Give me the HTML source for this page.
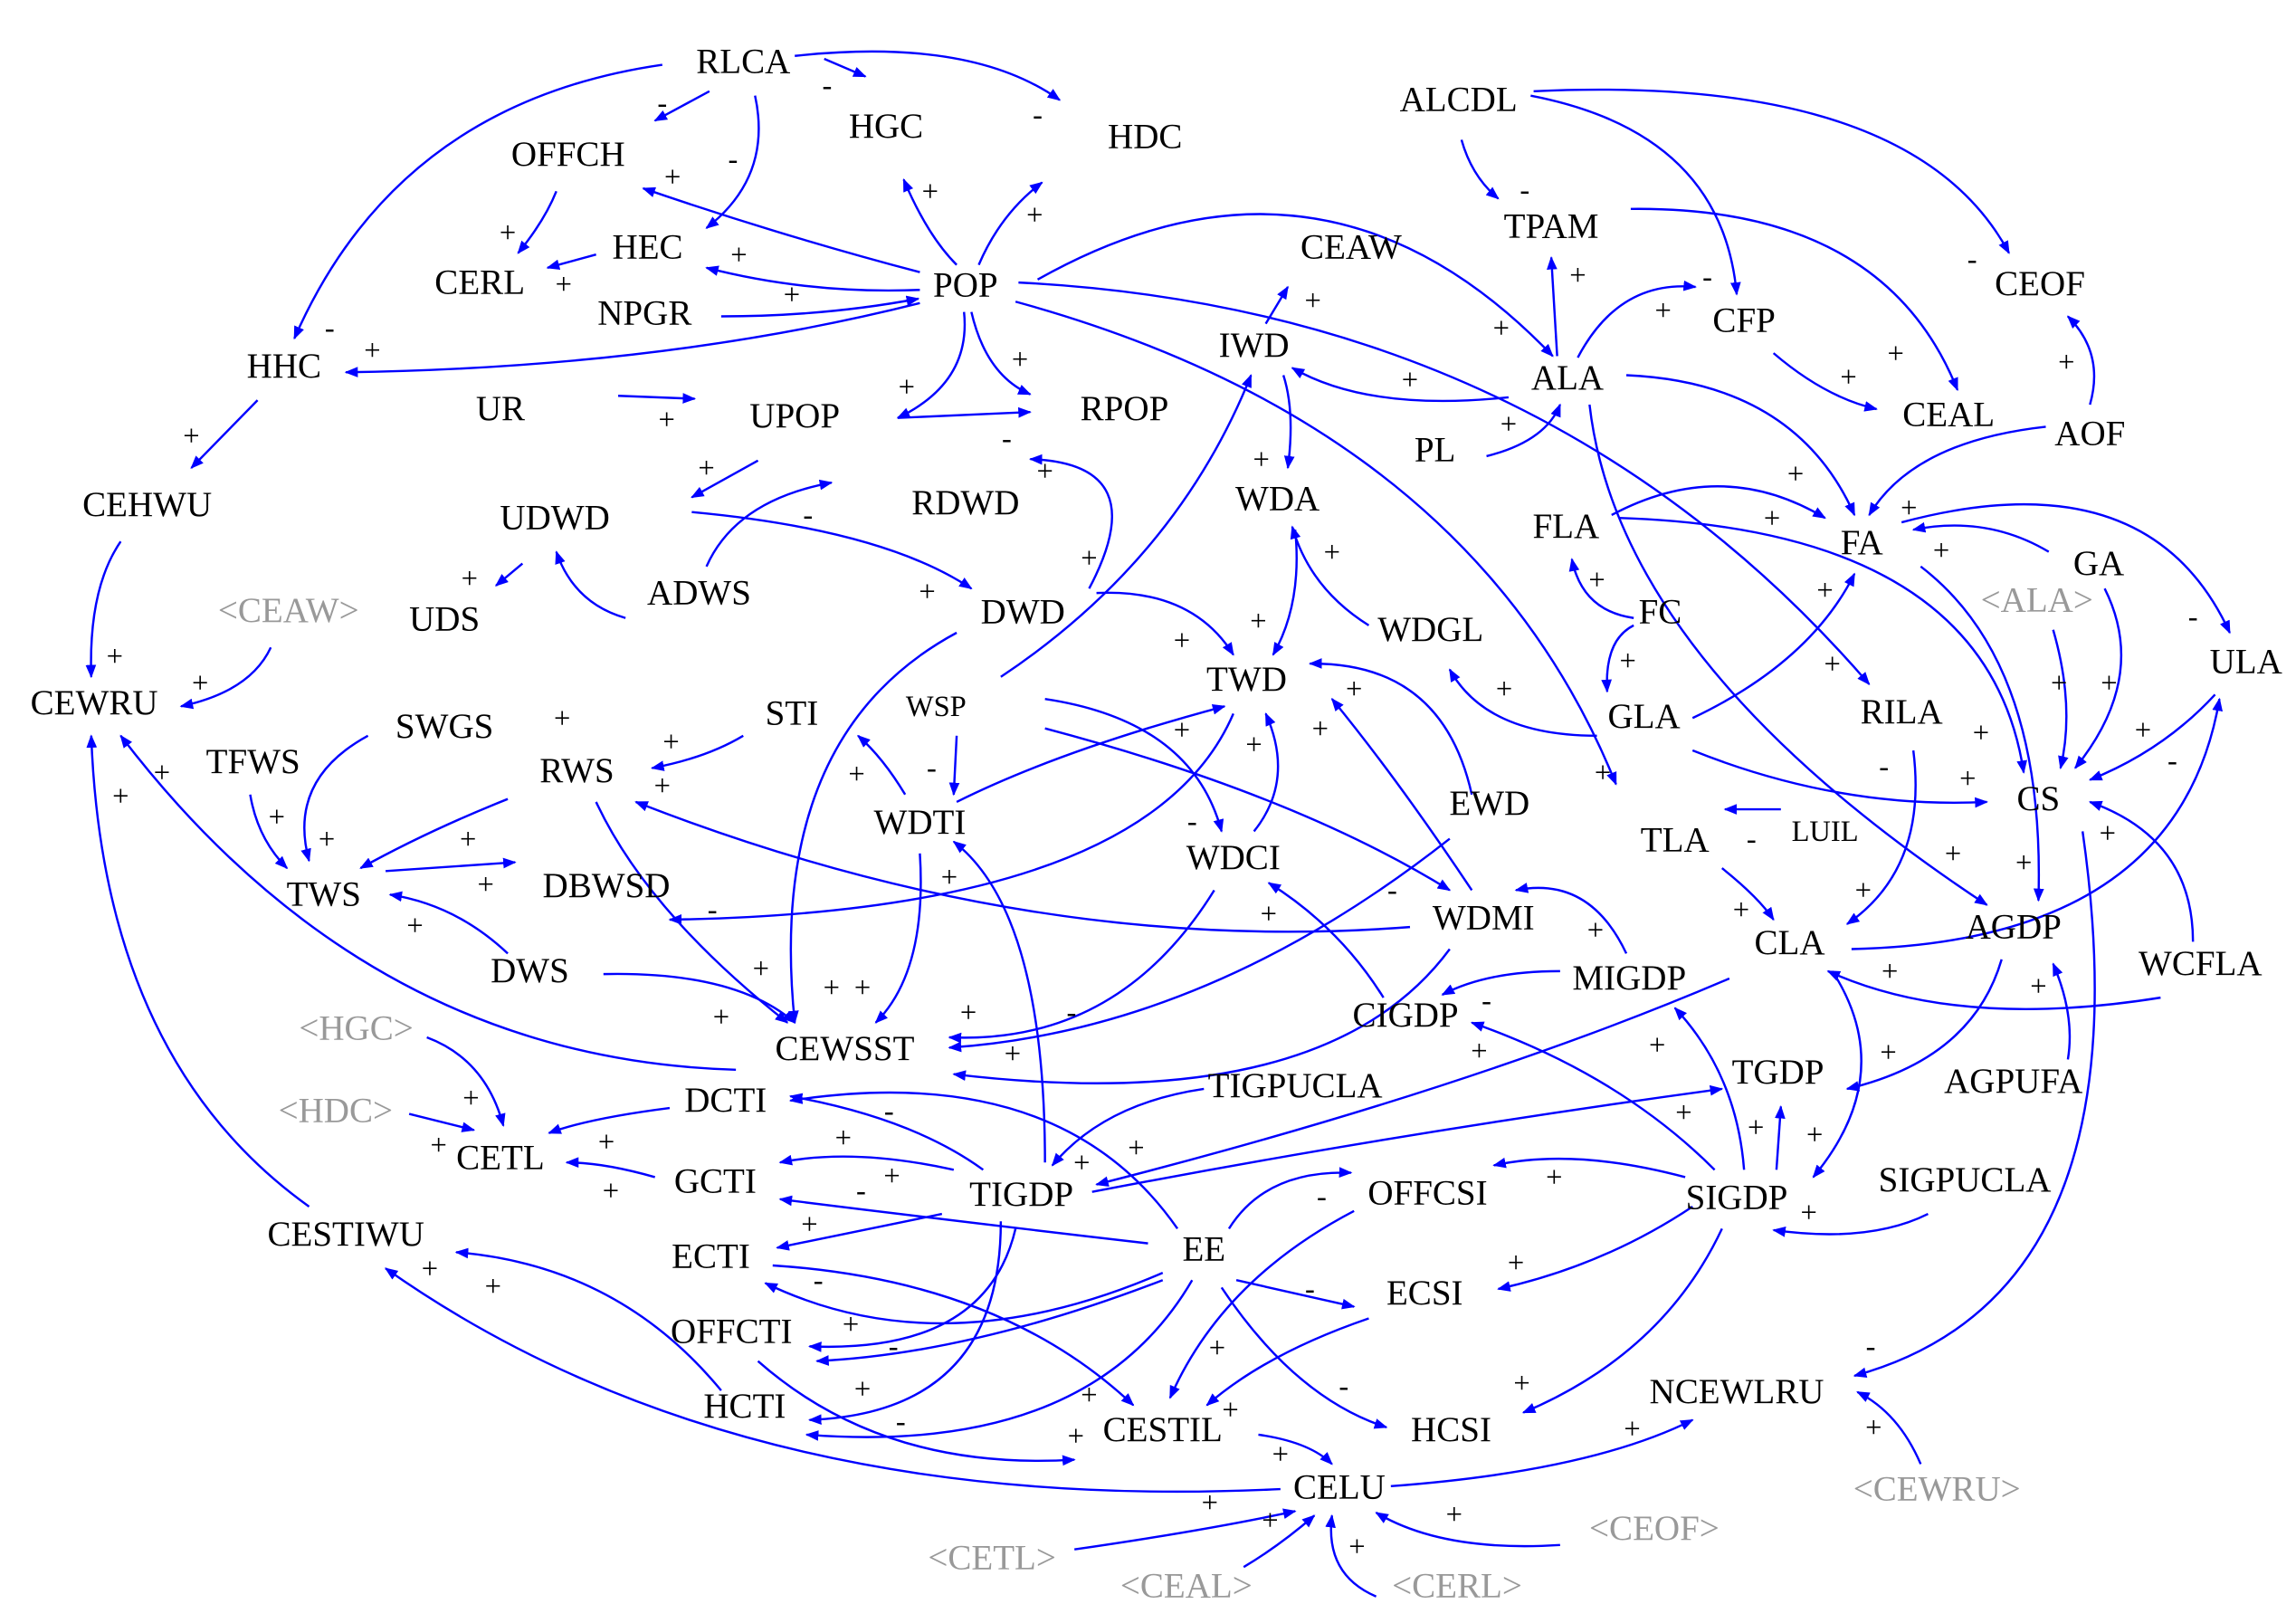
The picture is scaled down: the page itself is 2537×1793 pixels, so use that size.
<!DOCTYPE html>
<html><head><meta charset="utf-8"><style>
html,body{margin:0;padding:0;background:#fff;}
svg{display:block;}
text{font-family:"Liberation Serif",serif;}
.n{font-size:24px;fill:#000;text-anchor:middle;dominant-baseline:middle;}
.g{font-size:24px;fill:#999;text-anchor:middle;dominant-baseline:middle;}
.s{font-size:20px;fill:#000;text-anchor:middle;dominant-baseline:middle;}
path{fill:none;stroke:#0000ff;stroke-width:1.5;marker-end:url(#a);}
</style></head><body>
<svg width="2537" height="1793" viewBox="0 0 1560 1103" preserveAspectRatio="none" xmlns="http://www.w3.org/2000/svg">
<defs><marker id="a" viewBox="0 0 10 10" refX="9" refY="5" markerWidth="9" markerHeight="9" markerUnits="userSpaceOnUse" orient="auto"><path d="M0,1 L10,5 L0,9 z" style="fill:#0000ff;stroke:none;marker-end:none"/></marker></defs>
<rect width="1560" height="1103" fill="#fff"/>
<g>
<path d="M450 44 Q270 70 200 230"/>
<path d="M560 40 L588 52"/>
<path d="M540 38 Q660 25 720 68"/>
<path d="M482 62 L445 82"/>
<path d="M513 65 Q525 120 480 155"/>
<path d="M378 130 Q370 150 352 172"/>
<path d="M405 173 L372 182"/>
<path d="M625 185 Q530 160 437 128"/>
<path d="M625 197 Q550 200 480 182"/>
<path d="M490 215 Q560 215 624 203"/>
<path d="M625 206 Q450 250 235 253"/>
<path d="M650 180 Q630 160 614 122"/>
<path d="M665 180 Q680 145 708 124"/>
<path d="M655 212 Q660 260 610 284"/>
<path d="M660 212 Q670 255 700 268"/>
<path d="M610 284 L700 280"/>
<path d="M420 269 L472 271"/>
<path d="M705 190 Q900 80 1055 242"/>
<path d="M690 205 Q1000 290 1098 533"/>
<path d="M692 192 Q1050 210 1270 465"/>
<path d="M175 272 L130 318"/>
<path d="M82 368 Q60 400 62 460"/>
<path d="M184 440 Q170 470 123 480"/>
<path d="M515 313 L470 338"/>
<path d="M480 385 Q500 340 565 328"/>
<path d="M470 348 Q600 360 660 400"/>
<path d="M355 383 L337 398"/>
<path d="M425 420 Q390 410 378 375"/>
<path d="M740 400 Q785 315 700 312"/>
<path d="M745 403 Q810 400 838 445"/>
<path d="M650 430 Q520 500 540 695"/>
<path d="M860 220 L875 195"/>
<path d="M872 255 Q880 280 875 318"/>
<path d="M1025 270 Q930 280 878 250"/>
<path d="M680 460 Q800 380 850 255"/>
<path d="M880 360 Q885 410 865 445"/>
<path d="M930 425 Q890 400 878 358"/>
<path d="M1000 540 Q980 450 890 451"/>
<path d="M1000 605 Q950 530 905 475"/>
<path d="M650 545 Q720 510 832 480"/>
<path d="M838 485 Q780 620 455 625"/>
<path d="M852 565 Q880 530 860 485"/>
<path d="M710 475 Q810 490 830 565"/>
<path d="M710 495 Q880 540 985 605"/>
<path d="M650 500 L648 540"/>
<path d="M505 500 Q480 515 443 522"/>
<path d="M615 540 Q600 515 583 500"/>
<path d="M250 500 Q195 530 210 585"/>
<path d="M170 540 Q175 570 195 590"/>
<path d="M345 543 Q290 565 245 590"/>
<path d="M262 592 L350 586"/>
<path d="M345 648 Q310 615 265 608"/>
<path d="M405 545 Q440 620 535 695"/>
<path d="M958 630 Q700 650 432 545"/>
<path d="M410 662 Q500 660 540 695"/>
<path d="M625 580 Q630 660 595 695"/>
<path d="M825 605 Q760 710 645 705"/>
<path d="M985 570 Q820 700 645 712"/>
<path d="M985 645 Q900 760 648 730"/>
<path d="M500 727 Q250 720 82 500"/>
<path d="M210 820 Q70 720 62 500"/>
<path d="M290 705 Q330 720 342 765"/>
<path d="M278 757 L322 768"/>
<path d="M455 753 Q400 760 373 770"/>
<path d="M445 800 Q410 790 385 790"/>
<path d="M668 795 Q620 760 537 745"/>
<path d="M648 795 Q580 780 530 790"/>
<path d="M800 835 Q720 720 537 748"/>
<path d="M780 845 Q650 830 530 815"/>
<path d="M640 825 L528 848"/>
<path d="M790 865 Q640 930 520 872"/>
<path d="M690 835 Q670 920 550 915"/>
<path d="M790 870 Q660 920 555 925"/>
<path d="M680 830 Q680 960 550 965"/>
<path d="M810 870 Q740 990 548 975"/>
<path d="M525 860 Q680 870 770 955"/>
<path d="M515 925 Q600 1000 730 992"/>
<path d="M490 945 Q420 860 310 851"/>
<path d="M870 1012 Q500 1030 262 862"/>
<path d="M835 835 Q860 795 918 797"/>
<path d="M840 870 L920 888"/>
<path d="M830 875 Q880 950 942 970"/>
<path d="M920 823 Q830 870 795 950"/>
<path d="M930 896 Q860 920 820 955"/>
<path d="M855 975 Q890 980 905 995"/>
<path d="M945 1010 Q1080 1000 1150 965"/>
<path d="M730 1053 Q820 1040 880 1027"/>
<path d="M845 1065 Q870 1050 893 1030"/>
<path d="M935 1085 Q900 1070 905 1030"/>
<path d="M1060 1050 Q980 1055 935 1028"/>
<path d="M1305 995 Q1290 960 1262 946"/>
<path d="M1415 565 Q1460 880 1260 935"/>
<path d="M1170 835 Q1130 920 1035 960"/>
<path d="M1150 820 Q1090 860 1018 876"/>
<path d="M1145 800 Q1070 780 1015 792"/>
<path d="M1165 795 Q1100 730 1000 695"/>
<path d="M1185 795 Q1180 730 1138 685"/>
<path d="M1207 795 L1210 752"/>
<path d="M1310 825 Q1270 845 1205 836"/>
<path d="M1245 660 Q1290 730 1232 800"/>
<path d="M1175 665 Q1000 740 745 805"/>
<path d="M742 810 Q950 770 1170 740"/>
<path d="M818 740 Q750 750 715 792"/>
<path d="M710 790 Q710 620 648 572"/>
<path d="M940 678 Q910 630 862 600"/>
<path d="M1105 648 Q1080 595 1030 605"/>
<path d="M1060 660 Q1010 660 980 676"/>
<path d="M1170 590 Q1195 610 1205 625"/>
<path d="M1210 550 L1172 550"/>
<path d="M1300 510 Q1310 590 1255 628"/>
<path d="M1080 275 Q1100 450 1350 615"/>
<path d="M1150 510 Q1250 550 1350 545"/>
<path d="M1150 488 Q1230 450 1260 390"/>
<path d="M1085 500 Q1010 500 985 455"/>
<path d="M1110 425 Q1090 435 1092 470"/>
<path d="M1110 420 Q1075 415 1068 380"/>
<path d="M1095 350 Q1170 310 1240 352"/>
<path d="M1100 352 Q1350 360 1375 525"/>
<path d="M1105 255 Q1220 260 1260 350"/>
<path d="M1205 240 Q1240 270 1275 278"/>
<path d="M1072 243 Q1100 190 1152 195"/>
<path d="M1058 242 L1054 175"/>
<path d="M993 95 Q1000 120 1018 135"/>
<path d="M1040 65 Q1170 90 1180 200"/>
<path d="M1042 62 Q1300 50 1365 172"/>
<path d="M1108 142 Q1280 140 1330 265"/>
<path d="M1420 275 Q1430 240 1405 215"/>
<path d="M1390 290 Q1300 300 1270 350"/>
<path d="M1010 310 Q1050 300 1060 275"/>
<path d="M1392 375 Q1350 350 1300 360"/>
<path d="M1292 355 Q1460 310 1515 430"/>
<path d="M1430 400 Q1460 460 1410 522"/>
<path d="M1395 428 Q1410 480 1400 522"/>
<path d="M1305 385 Q1390 450 1385 612"/>
<path d="M1505 472 Q1470 510 1420 530"/>
<path d="M1258 645 Q1480 640 1508 475"/>
<path d="M1490 640 Q1490 570 1420 545"/>
<path d="M1468 678 Q1330 700 1242 660"/>
<path d="M1360 652 Q1340 720 1255 740"/>
<path d="M1405 720 Q1410 690 1395 655"/>
</g>
<g>
<rect x="0" y="0" width="0" height="0"/>
</g>
<g>
<text class="n" x="505" y="44">RLCA</text>
<text class="n" x="602" y="88">HGC</text>
<text class="n" x="778" y="95">HDC</text>
<text class="n" x="386" y="107">OFFCH</text>
<text class="n" x="440" y="170">HEC</text>
<text class="n" x="326" y="194">CERL</text>
<text class="n" x="438" y="215">NPGR</text>
<text class="n" x="656" y="196">POP</text>
<text class="n" x="193" y="251">HHC</text>
<text class="n" x="340" y="280">UR</text>
<text class="n" x="540" y="285">UPOP</text>
<text class="n" x="764" y="280">RPOP</text>
<text class="n" x="100" y="345">CEHWU</text>
<text class="n" x="377" y="354">UDWD</text>
<text class="n" x="656" y="344">RDWD</text>
<text class="n" x="475" y="405">ADWS</text>
<text class="n" x="302" y="423">UDS</text>
<text class="g" x="196" y="417">&lt;CEAW&gt;</text>
<text class="n" x="695" y="418">DWD</text>
<text class="n" x="64" y="480">CEWRU</text>
<text class="n" x="302" y="496">SWGS</text>
<text class="n" x="538" y="487">STI</text>
<text class="n" x="636" y="482" style="font-size:20px">WSP</text>
<text class="n" x="172" y="520">TFWS</text>
<text class="n" x="392" y="526">RWS</text>
<text class="n" x="847" y="464">TWD</text>
<text class="n" x="625" y="561">WDTI</text>
<text class="n" x="220" y="610">TWS</text>
<text class="n" x="412" y="604">DBWSD</text>
<text class="n" x="838" y="585">WDCI</text>
<text class="n" x="1012" y="548">EWD</text>
<text class="n" x="1008" y="626">WDMI</text>
<text class="n" x="360" y="662">DWS</text>
<text class="n" x="574" y="715">CEWSST</text>
<text class="g" x="242" y="701">&lt;HGC&gt;</text>
<text class="g" x="228" y="757">&lt;HDC&gt;</text>
<text class="n" x="340" y="789">CETL</text>
<text class="n" x="493" y="750">DCTI</text>
<text class="n" x="486" y="805">GCTI</text>
<text class="n" x="694" y="814">TIGDP</text>
<text class="n" x="880" y="740">TIGPUCLA</text>
<text class="n" x="955" y="692">CIGDP</text>
<text class="n" x="1107" y="667">MIGDP</text>
<text class="n" x="235" y="841">CESTIWU</text>
<text class="n" x="483" y="856">ECTI</text>
<text class="n" x="818" y="851">EE</text>
<text class="n" x="970" y="813">OFFCSI</text>
<text class="n" x="968" y="881">ECSI</text>
<text class="n" x="497" y="907">OFFCTI</text>
<text class="n" x="506" y="958">HCTI</text>
<text class="n" x="790" y="974">CESTIL</text>
<text class="n" x="986" y="974">HCSI</text>
<text class="n" x="910" y="1013">CELU</text>
<text class="g" x="674" y="1061">&lt;CETL&gt;</text>
<text class="g" x="806" y="1080">&lt;CEAL&gt;</text>
<text class="g" x="990" y="1080">&lt;CERL&gt;</text>
<text class="g" x="1124" y="1041">&lt;CEOF&gt;</text>
<text class="g" x="1316" y="1014">&lt;CEWRU&gt;</text>
<text class="n" x="1180" y="948">NCEWLRU</text>
<text class="n" x="1180" y="816">SIGDP</text>
<text class="n" x="1335" y="804">SIGPUCLA</text>
<text class="n" x="1208" y="731">TGDP</text>
<text class="n" x="1368" y="737">AGPUFA</text>
<text class="n" x="1216" y="643">CLA</text>
<text class="n" x="1368" y="632">AGDP</text>
<text class="n" x="1495" y="657">WCFLA</text>
<text class="n" x="1138" y="573">TLA</text>
<text class="n" x="1240" y="567" style="font-size:20px">LUIL</text>
<text class="n" x="1292" y="486">RILA</text>
<text class="n" x="1385" y="545">CS</text>
<text class="n" x="1117" y="489">GLA</text>
<text class="n" x="1128" y="418">FC</text>
<text class="n" x="1064" y="360">FLA</text>
<text class="n" x="1265" y="371">FA</text>
<text class="n" x="1426" y="385">GA</text>
<text class="g" x="1384" y="410">&lt;ALA&gt;</text>
<text class="n" x="1526" y="452">ULA</text>
<text class="n" x="1420" y="297">AOF</text>
<text class="n" x="1324" y="284">CEAL</text>
<text class="n" x="1185" y="220">CFP</text>
<text class="n" x="1386" y="195">CEOF</text>
<text class="n" x="1065" y="259">ALA</text>
<text class="n" x="1054" y="156">TPAM</text>
<text class="n" x="991" y="70">ALCDL</text>
<text class="n" x="918" y="170">CEAW</text>
<text class="n" x="852" y="237">IWD</text>
<text class="n" x="975" y="308">PL</text>
<text class="n" x="868" y="341">WDA</text>
<text class="n" x="972" y="430">WDGL</text>
</g>
<g class="signs">
<text class="s" x="562" y="60">-</text><text class="s" x="450" y="72">-</text><text class="s" x="498" y="110">-</text><text class="s" x="705" y="80">-</text>
<text class="s" x="457" y="122">+</text><text class="s" x="345" y="160">+</text><text class="s" x="383" y="195">+</text><text class="s" x="502" y="175">+</text>
<text class="s" x="632" y="132">+</text><text class="s" x="703" y="148">+</text><text class="s" x="538" y="202">+</text><text class="s" x="224" y="225">-</text>
<text class="s" x="253" y="240">+</text><text class="s" x="130" y="298">+</text><text class="s" x="616" y="265">+</text><text class="s" x="453" y="287">+</text>
<text class="s" x="693" y="246">+</text><text class="s" x="684" y="300">-</text><text class="s" x="710" y="322">+</text><text class="s" x="480" y="320">+</text>
<text class="s" x="549" y="352">-</text><text class="s" x="319" y="395">+</text><text class="s" x="740" y="381">+</text><text class="s" x="630" y="404">+</text>
<text class="s" x="78" y="448">+</text><text class="s" x="136" y="466">+</text><text class="s" x="82" y="543">+</text><text class="s" x="110" y="527">+</text>
<text class="s" x="892" y="206">+</text><text class="s" x="958" y="260">+</text><text class="s" x="857" y="314">+</text><text class="s" x="905" y="377">+</text>
<text class="s" x="855" y="424">+</text><text class="s" x="803" y="437">+</text><text class="s" x="920" y="470">+</text><text class="s" x="897" y="497">+</text>
<text class="s" x="852" y="508">+</text><text class="s" x="803" y="498">+</text><text class="s" x="633" y="524">-</text><text class="s" x="582" y="528">+</text>
<text class="s" x="382" y="490">+</text><text class="s" x="456" y="506">+</text><text class="s" x="450" y="536">+</text><text class="s" x="188" y="557">+</text>
<text class="s" x="222" y="572">+</text><text class="s" x="318" y="572">+</text><text class="s" x="330" y="603">+</text><text class="s" x="282" y="631">+</text>
<text class="s" x="484" y="620">-</text><text class="s" x="517" y="660">+</text><text class="s" x="565" y="673">+</text><text class="s" x="586" y="673">+</text>
<text class="s" x="490" y="693">+</text><text class="s" x="645" y="598">+</text><text class="s" x="658" y="690">+</text><text class="s" x="688" y="718">+</text>
<text class="s" x="728" y="690">-</text><text class="s" x="810" y="560">-</text><text class="s" x="862" y="623">+</text><text class="s" x="946" y="607">-</text>
<text class="s" x="1022" y="470">+</text><text class="s" x="1084" y="634">+</text><text class="s" x="1010" y="682">-</text><text class="s" x="1005" y="716">+</text>
<text class="s" x="1126" y="712">+</text><text class="s" x="1144" y="758">+</text><text class="s" x="1193" y="768">+</text><text class="s" x="1233" y="773">+</text>
<text class="s" x="1229" y="826">+</text><text class="s" x="1056" y="802">+</text><text class="s" x="1030" y="860">+</text><text class="s" x="1034" y="942">+</text>
<text class="s" x="1283" y="717">+</text><text class="s" x="1385" y="672">+</text><text class="s" x="1284" y="662">+</text><text class="s" x="1266" y="607">+</text>
<text class="s" x="1327" y="582">+</text><text class="s" x="1375" y="588">+</text><text class="s" x="1183" y="620">+</text><text class="s" x="1190" y="572">-</text>
<text class="s" x="1280" y="523">-</text><text class="s" x="1337" y="531">+</text><text class="s" x="1346" y="500">+</text><text class="s" x="1089" y="527">+</text>
<text class="s" x="1106" y="451">+</text><text class="s" x="1085" y="396">+</text><text class="s" x="1204" y="354">+</text><text class="s" x="1220" y="324">+</text>
<text class="s" x="1245" y="453">+</text><text class="s" x="1240" y="403">+</text><text class="s" x="1319" y="376">+</text><text class="s" x="1297" y="347">+</text>
<text class="s" x="1399" y="466">+</text><text class="s" x="1433" y="466">+</text><text class="s" x="1456" y="498">+</text><text class="s" x="1476" y="519">-</text>
<text class="s" x="1490" y="421">-</text><text class="s" x="1432" y="568">+</text><text class="s" x="1288" y="242">+</text><text class="s" x="1256" y="258">+</text>
<text class="s" x="1340" y="178">-</text><text class="s" x="1404" y="248">+</text><text class="s" x="1130" y="213">+</text><text class="s" x="1160" y="190">-</text>
<text class="s" x="1072" y="189">+</text><text class="s" x="1036" y="131">-</text><text class="s" x="1020" y="225">+</text><text class="s" x="1025" y="290">+</text>
<text class="s" x="320" y="748">+</text><text class="s" x="298" y="780">+</text><text class="s" x="412" y="778">+</text><text class="s" x="415" y="811">+</text>
<text class="s" x="604" y="757">-</text><text class="s" x="573" y="775">+</text><text class="s" x="585" y="811">-</text><text class="s" x="606" y="801">+</text>
<text class="s" x="550" y="834">+</text><text class="s" x="556" y="872">-</text><text class="s" x="578" y="902">+</text><text class="s" x="607" y="917">-</text>
<text class="s" x="586" y="946">+</text><text class="s" x="612" y="968">-</text><text class="s" x="740" y="950">+</text><text class="s" x="731" y="978">+</text>
<text class="s" x="772" y="782">+</text><text class="s" x="735" y="792">+</text><text class="s" x="898" y="815">-</text><text class="s" x="890" y="878">-</text>
<text class="s" x="913" y="944">-</text><text class="s" x="827" y="918">+</text><text class="s" x="836" y="960">+</text><text class="s" x="870" y="990">+</text>
<text class="s" x="822" y="1023">+</text><text class="s" x="863" y="1035">+</text><text class="s" x="922" y="1053">+</text><text class="s" x="988" y="1031">+</text>
<text class="s" x="292" y="864">+</text><text class="s" x="335" y="876">+</text><text class="s" x="1109" y="973">+</text><text class="s" x="1273" y="972">+</text>
<text class="s" x="1271" y="917">-</text>
</g>
</svg>
</body></html>
